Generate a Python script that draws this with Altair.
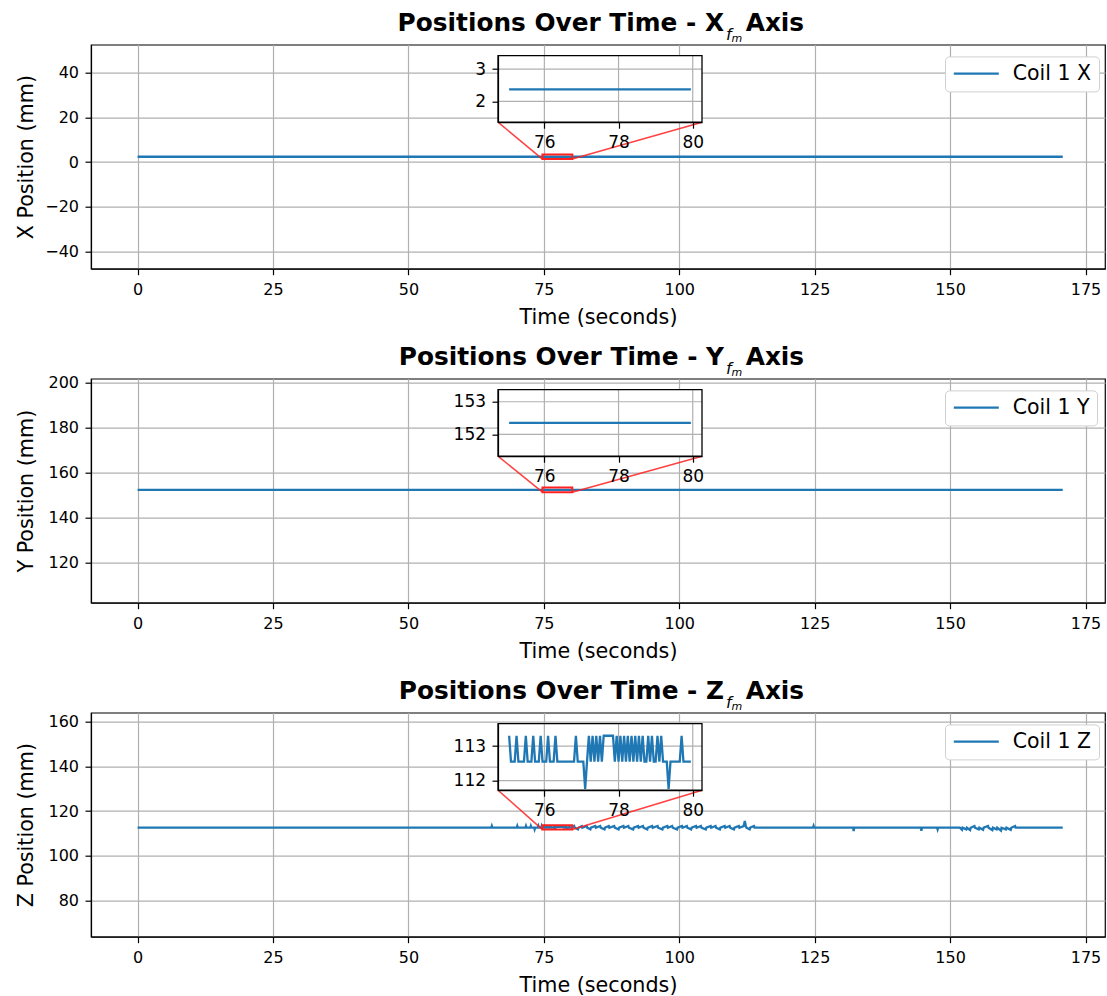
import altair as alt
import pandas as pd

BLUE = "#1f77b4"
RED = "#ff2020"
GRID = "#b0b0b0"
FONT = "DejaVu Sans"

PLOT_W, PLOT_H = 1014, 224
TIME_DOMAIN = [-8.6, 178.6]
TIME_TICKS = [0, 25, 50, 75, 100, 125, 150, 175]

# zoomed window (seconds) and where the inset sits inside each panel (px)
ZOOM_DOMAIN = [74.75, 80.25]
ZOOM_RANGE = [75.0, 80.0]
ZOOM_TICKS = [76, 78, 80]
INSET_LEFT, INSET_RIGHT = 407, 611
INSET_TOP, INSET_BOTTOM = 11, 77.5

# legend key: a 45 px stroke drawn from a custom path (unit coords scaled by sqrt(size)/2)
LEGEND_KEY_PATH = "M-1.5,0H6.5"
LEGEND_KEY_SIZE = 126.5

# ---- Coil 1, X ----
x_time = [0.0, 75.05, 79.95, 170.8]
x_pos = [2.37, 2.37, 2.37, 2.37]
X_DOMAIN = [-47.6, 52.4]
X_TICKS = [-40, -20, 0, 20, 40]
X_ZOOM_DOMAIN = [1.35, 3.42]
X_ZOOM_TICKS = [2, 3]

# ---- Coil 1, Y ----
y_time = [0.0, 75.05, 79.95, 170.8]
y_pos = [152.35, 152.35, 152.35, 152.35]
Y_DOMAIN = [102.1, 201.9]
Y_TICKS = [120, 140, 160, 180, 200]
Y_ZOOM_DOMAIN = [151.33, 153.37]
Y_ZOOM_TICKS = [152, 153]

# ---- Coil 1, Z ----
z_time_start = [0.0, 65.3, 65.4, 65.5, 70.0, 70.1, 70.2, 71.6, 71.7, 71.8, 72.5,
                72.6, 72.7, 73.2, 73.3, 73.4, 73.9, 74.0, 74.1, 74.5, 74.6, 74.7]
z_pos_start = [112.55, 112.55, 113.3, 112.55, 112.55, 113.3, 112.55, 112.55, 113.3,
               112.55, 112.55, 113.3, 112.55, 112.55, 111.8, 112.55, 112.55, 113.3,
               112.55, 112.55, 113.3, 112.55]

# 20 Hz samples from 75.05 s to 79.95 s
z_zoom_t0 = 75.05
z_zoom_dt = 0.05
z_pos_zoom = [
    113.3, 112.55, 112.55, 112.55, 113.3, 112.55, 112.55, 112.55, 112.55, 113.3,
    112.55, 112.55, 112.55, 113.3, 112.55, 112.55, 112.55, 113.3, 112.55, 112.55,
    112.55, 113.3, 112.55, 112.55, 112.55, 113.3, 112.55, 112.55, 112.55, 112.55,
    112.55, 112.55, 112.55, 112.55, 112.55, 112.55, 113.3, 112.55, 112.55, 112.55,
    112.55, 111.76, 112.55, 113.3, 112.55, 113.3, 112.55, 113.3, 112.55, 113.3,
    112.55, 113.3, 113.3, 113.3, 113.3, 113.3, 113.3, 112.55, 113.3, 112.55,
    113.3, 112.55, 113.3, 112.55, 113.3, 112.55, 113.3, 112.55, 113.3, 112.55,
    113.3, 112.55, 113.3, 112.55, 112.55, 113.3, 112.55, 113.3, 112.55, 112.55,
    113.3, 112.55, 113.3, 112.55, 112.55, 112.55, 111.76, 112.55, 112.55, 112.55,
    112.55, 112.55, 112.55, 113.3, 112.55, 112.55, 112.55, 112.55, 112.55,
]

z_time_end = [80.05, 80.6, 80.7, 81.3, 81.4, 82.0, 82.1, 82.9, 83.0, 83.6, 83.7,
              84.5, 84.6, 85.4, 85.5, 86.2, 86.3, 87.0, 87.1, 88.0, 88.1, 88.8,
              88.9, 89.7, 89.8, 90.6, 90.7, 91.5, 91.6, 92.4, 92.5, 93.3, 93.4,
              94.1, 94.2, 95.0, 95.1, 96.0, 96.1, 96.9, 97.0, 97.8, 97.9, 98.7,
              98.8, 99.6, 99.7, 100.5, 100.6, 101.4, 101.5, 102.2, 102.3, 103.1,
              103.2, 104.0, 104.1, 104.9, 105.0, 105.8, 105.9, 106.7, 106.8, 107.5,
              107.6, 108.4, 108.5, 109.3, 109.4, 110.1, 110.2, 111.0, 111.1, 111.9,
              112.1, 112.3, 112.4, 113.0, 113.1, 113.8, 113.9, 124.7, 124.8, 124.9,
              132.1, 132.2, 132.3, 144.6, 144.7, 144.8, 147.6, 147.7, 147.8, 151.8,
              152.2, 152.3, 153.0, 153.1, 153.7, 153.8, 154.5, 154.6, 155.3, 155.4,
              156.1, 156.2, 157.0, 157.1, 157.8, 157.9, 158.6, 158.7, 159.4, 159.5,
              160.3, 160.4, 161.2, 161.3, 162.0, 162.1, 170.8]
z_pos_end = [112.55, 113.3, 112.55, 111.8, 112.55, 113.3, 112.55, 113.3, 112.55, 111.8,
             112.55, 113.3, 112.55, 113.3, 112.55, 111.8, 112.55, 113.3, 112.55, 113.3,
             112.55, 111.8, 112.55, 113.3, 112.55, 113.3, 112.55, 111.8, 112.55, 113.3,
             112.55, 113.3, 112.55, 111.8, 112.55, 113.3, 112.55, 113.3, 112.55, 111.8,
             112.55, 113.3, 112.55, 113.3, 112.55, 111.8, 112.55, 113.3, 112.55, 113.3,
             112.55, 111.8, 112.55, 113.3, 112.55, 113.3, 112.55, 111.8, 112.55, 113.3,
             112.55, 113.3, 112.55, 111.8, 112.55, 113.3, 112.55, 113.3, 112.55, 111.8,
             112.55, 113.3, 112.55, 113.3, 115.6, 113.3, 112.55, 111.8, 112.55, 113.3,
             112.55, 112.55, 113.3, 112.55, 112.55, 111.0, 112.55, 112.55, 111.2, 112.55,
             112.55, 111.8, 112.55, 112.55, 111.6, 112.55, 111.8, 112.55, 111.5, 112.55,
             113.3, 112.55, 111.8, 112.55, 111.6, 112.55, 113.3, 112.55, 111.5, 112.55,
             111.8, 112.55, 111.2, 112.55, 111.8, 112.55, 111.6, 112.55, 113.3, 112.55,
             112.55]
Z_DOMAIN = [63.9, 163.9]
Z_TICKS = [80, 100, 120, 140, 160]
Z_ZOOM_DOMAIN = [111.72, 113.65]
Z_ZOOM_TICKS = [112, 113]

z_time_zoom = [round(z_zoom_t0 + z_zoom_dt * i, 2) for i in range(len(z_pos_zoom))]
z_time = z_time_start + z_time_zoom + z_time_end
z_pos = z_pos_start + z_pos_zoom + z_pos_end


def panel(letter, times, values, y_domain, y_ticks, zoom_y_domain, zoom_y_ticks):
    label = f"Coil 1 {letter}"
    df = pd.DataFrame({"t": times, "v": values, "series": [label] * len(times)})
    box = pd.DataFrame({"t0": [ZOOM_DOMAIN[0]], "t1": [ZOOM_DOMAIN[1]],
                        "v0": [zoom_y_domain[0]], "v1": [zoom_y_domain[1]]})

    # main axes (shared by every mark of the main layer)
    t_scale = alt.Scale(domain=TIME_DOMAIN, nice=False, zero=False)
    v_scale = alt.Scale(domain=y_domain, nice=False, zero=False)
    t_axis = alt.Axis(values=TIME_TICKS, title="Time (seconds)", orient="bottom",
                      grid=True, titlePadding=10)
    v_axis = alt.Axis(values=y_ticks, title=f"{letter} Position (mm)", orient="left",
                      grid=True, titleX=-58.7, titleBaseline="alphabetic")

    line = alt.Chart(df).mark_line(strokeWidth=2.3, clip=True).encode(
        x=alt.X("t:Q", scale=t_scale, axis=t_axis),
        y=alt.Y("v:Q", scale=v_scale, axis=v_axis),
        color=alt.Color("series:N", scale=alt.Scale(domain=[label], range=[BLUE]),
                        legend=alt.Legend(orient="none", legendX=854, legendY=11.7, title=None,
                                          symbolType=LEGEND_KEY_PATH, symbolSize=LEGEND_KEY_SIZE,
                                          symbolStrokeWidth=2.3, symbolFillColor="transparent",
                                          labelFont=FONT, labelFontSize=20.5, labelColor="black",
                                          labelOffset=40.25, padding=7, cornerRadius=4,
                                          strokeColor="#d0d0d0", fillColor="white")),
    )

    zoom_box = alt.Chart(box).mark_rect(fillOpacity=0, stroke=RED, strokeWidth=2).encode(
        x=alt.X("t0:Q", scale=t_scale, axis=t_axis), x2="t1:Q",
        y=alt.Y("v0:Q", scale=v_scale, axis=v_axis), y2="v1:Q",
    )
    link_left = alt.Chart(box).mark_rule(color=RED, strokeWidth=1.5, opacity=0.85).encode(
        x=alt.X("t0:Q", scale=t_scale, axis=t_axis),
        y=alt.Y("v0:Q", scale=v_scale, axis=v_axis),
        x2=alt.value(INSET_LEFT), y2=alt.value(INSET_BOTTOM),
    )
    link_right = alt.Chart(box).mark_rule(color=RED, strokeWidth=1.5, opacity=0.85).encode(
        x=alt.X("t1:Q", scale=t_scale, axis=t_axis),
        y=alt.Y("v0:Q", scale=v_scale, axis=v_axis),
        x2=alt.value(INSET_RIGHT), y2=alt.value(INSET_BOTTOM),
    )

    # title: "Positions Over Time - <letter>" with a math-style f_m subscript
    title_main = alt.Chart(pd.DataFrame({"s": [f"Positions Over Time - {letter}"]})).mark_text(
        align="right", baseline="alphabetic", font=FONT, fontWeight="bold", fontSize=24.8,
        color="black").encode(x=alt.value(633), y=alt.value(-13.3), text="s:N")
    title_f = alt.Chart(pd.DataFrame({"s": ["f"]})).mark_text(
        align="left", baseline="alphabetic", font=FONT, fontStyle="italic", fontSize=16,
        color="black").encode(x=alt.value(635), y=alt.value(-4.3), text="s:N")
    title_m = alt.Chart(pd.DataFrame({"s": ["m"]})).mark_text(
        align="left", baseline="alphabetic", font=FONT, fontStyle="italic", fontSize=11,
        color="black").encode(x=alt.value(640.5), y=alt.value(-2.3), text="s:N")
    title_end = alt.Chart(pd.DataFrame({"s": ["Axis"]})).mark_text(
        align="left", baseline="alphabetic", font=FONT, fontWeight="bold", fontSize=24.8,
        color="black").encode(x=alt.value(654.7), y=alt.value(-13.3), text="s:N")

    main = alt.layer(line, link_left, link_right, zoom_box,
                     title_main, title_f, title_m, title_end)

    # inset axes (shared by every mark of the inset layer)
    zt_scale = alt.Scale(domain=ZOOM_DOMAIN, range=[INSET_LEFT, INSET_RIGHT], nice=False, zero=False)
    zv_scale = alt.Scale(domain=zoom_y_domain, range=[INSET_BOTTOM, INSET_TOP], nice=False, zero=False)
    zt_axis = alt.Axis(orient="bottom", offset=INSET_BOTTOM - PLOT_H, values=ZOOM_TICKS,
                       grid=False, title=None, labelFontSize=17, zindex=1)
    zv_axis = alt.Axis(orient="left", offset=-INSET_LEFT, values=zoom_y_ticks,
                       grid=False, title=None, labelFontSize=17, zindex=1)

    inset_bg = alt.Chart(box).mark_rect(fill="white").encode(
        x=alt.X("t0:Q", scale=zt_scale, axis=zt_axis), x2="t1:Q",
        y=alt.Y("v0:Q", scale=zv_scale, axis=zv_axis), y2="v1:Q",
    )
    vgrid = pd.DataFrame({"g": ZOOM_TICKS, "lo": [zoom_y_domain[0]] * len(ZOOM_TICKS),
                          "hi": [zoom_y_domain[1]] * len(ZOOM_TICKS)})
    inset_vgrid = alt.Chart(vgrid).mark_rule(color=GRID, strokeWidth=1.2).encode(
        x=alt.X("g:Q", scale=zt_scale, axis=zt_axis),
        y=alt.Y("lo:Q", scale=zv_scale, axis=zv_axis), y2="hi:Q",
    )
    hgrid = pd.DataFrame({"g": zoom_y_ticks, "lo": [ZOOM_DOMAIN[0]] * len(zoom_y_ticks),
                          "hi": [ZOOM_DOMAIN[1]] * len(zoom_y_ticks)})
    inset_hgrid = alt.Chart(hgrid).mark_rule(color=GRID, strokeWidth=1.2).encode(
        y=alt.Y("g:Q", scale=zv_scale, axis=zv_axis),
        x=alt.X("lo:Q", scale=zt_scale, axis=zt_axis), x2="hi:Q",
    )
    inset_line = alt.Chart(df).transform_filter(
        f"datum.t >= {ZOOM_RANGE[0]} && datum.t <= {ZOOM_RANGE[1]}"
    ).mark_line(color=BLUE, strokeWidth=2.3).encode(
        x=alt.X("t:Q", scale=zt_scale, axis=zt_axis),
        y=alt.Y("v:Q", scale=zv_scale, axis=zv_axis),
    )
    inset_frame = alt.Chart(box).mark_rect(fillOpacity=0, stroke="black", strokeWidth=1.3).encode(
        x=alt.X("t0:Q", scale=zt_scale, axis=zt_axis), x2="t1:Q",
        y=alt.Y("v0:Q", scale=zv_scale, axis=zv_axis), y2="v1:Q",
    )
    inset = alt.layer(inset_bg, inset_vgrid, inset_hgrid, inset_line, inset_frame)

    return alt.layer(main, inset).resolve_scale(x="independent", y="independent").properties(
        width=PLOT_W, height=PLOT_H)


chart = alt.vconcat(
    panel("X", x_time, x_pos, X_DOMAIN, X_TICKS, X_ZOOM_DOMAIN, X_ZOOM_TICKS),
    panel("Y", y_time, y_pos, Y_DOMAIN, Y_TICKS, Y_ZOOM_DOMAIN, Y_ZOOM_TICKS),
    panel("Z", z_time, z_pos, Z_DOMAIN, Z_TICKS, Z_ZOOM_DOMAIN, Z_ZOOM_TICKS),
    spacing=110, bounds="flush",
).resolve_scale(color="independent").resolve_legend(color="independent").configure(
    padding={"left": 14, "top": 10.7, "right": 0, "bottom": 5},
    background="white",
).configure_view(
    stroke="black", strokeWidth=1.2,
).configure_axis(
    labelFont=FONT, titleFont=FONT, labelColor="black", titleColor="black",
    domainColor="black", tickColor="black", gridColor=GRID, gridWidth=1.2,
    tickSize=6, labelFontSize=16, titleFontSize=20.7, titleFontWeight="normal",
    labelPadding=6.5, domainWidth=1.2, tickWidth=1.2,
)

chart.save("out.html", embed_options={"renderer": "svg", "actions": False})
